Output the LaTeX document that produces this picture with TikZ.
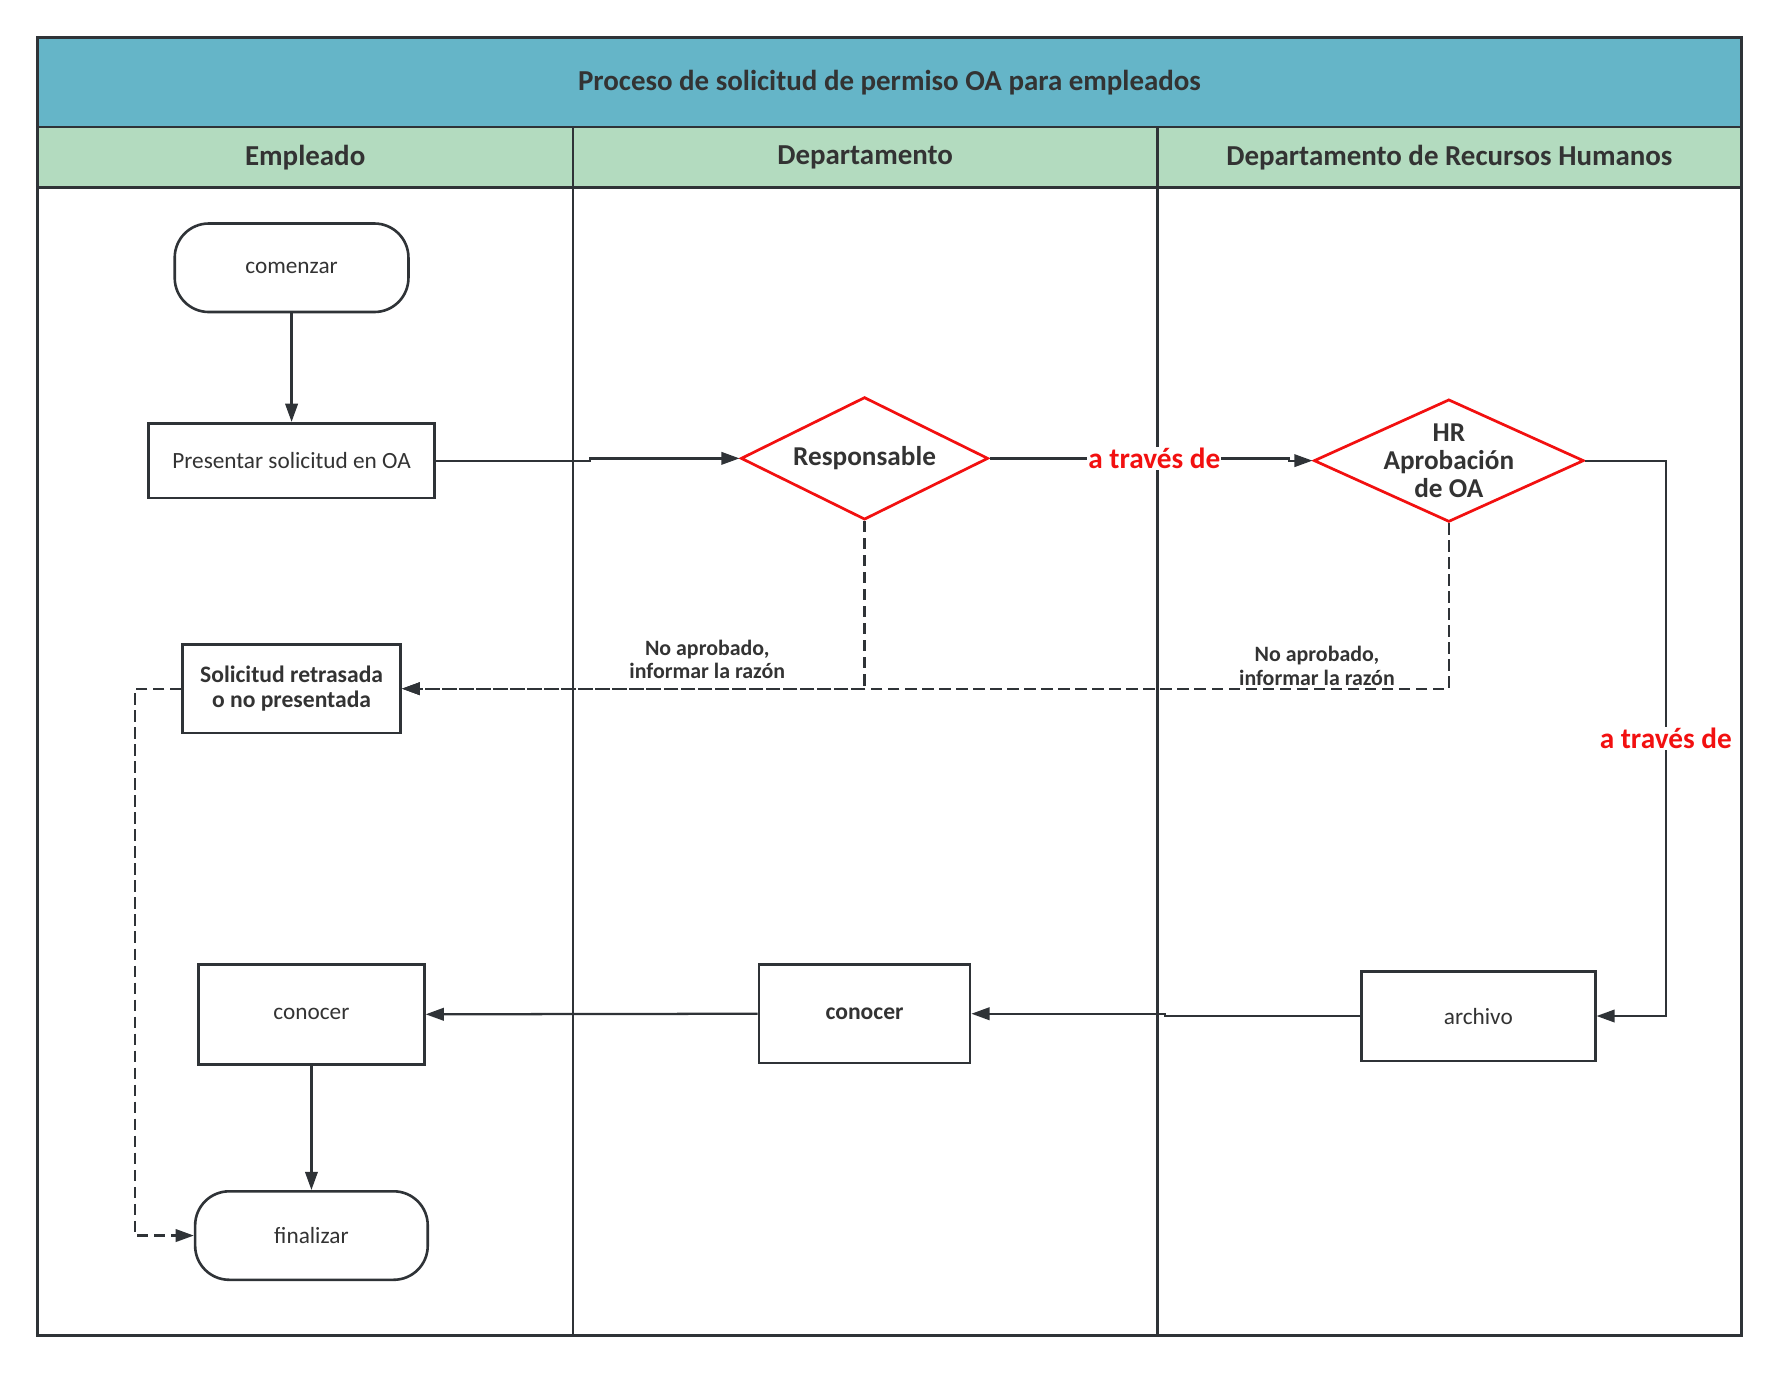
\documentclass[tikz,border=0pt]{standalone}
\usepackage{fontspec}
\setmainfont{Carlito}
\usetikzlibrary{arrows.meta,positioning,shapes.geometric}
\definecolor{OAInk}{HTML}{2F3337}
\definecolor{OAText}{HTML}{333333}
\definecolor{OATeal}{HTML}{65B5C8}
\definecolor{OAGreen}{HTML}{B3DBBF}
\definecolor{OARed}{HTML}{F21010}
\tikzset{
  oa/frame/.style={draw=OAInk, line width=2.5pt},
  oa/title/.style={
    oa/frame, fill=OATeal, text=OAText, inner sep=0pt,
    font=\fontsize{25.5}{30}\selectfont\bfseries
  },
  oa/head/.style={
    oa/frame, fill=OAGreen, text=OAText, inner sep=0pt, minimum height=53pt,
    font=\fontsize{25.5}{30}\selectfont\bfseries
  },
  oa/task/.style={
    draw=OAInk, line width=2.3pt, fill=white, text=OAText,
    inner sep=0pt, align=center, font=\fontsize{20.5}{24}\selectfont
  },
  oa/boldtask/.style={oa/task, font=\fontsize{20.8}{22}\selectfont\bfseries},
  oa/start/.style={oa/task, rounded corners=30pt},
  oa/decision/.style={
    diamond, aspect=2, draw=OARed, line width=2.4pt, fill=white, text=OAText,
    inner sep=0pt, align=center, font=\fontsize{24}{25}\selectfont\bfseries
  },
  oa/dtext/.style={text=OAText, align=center, font=\fontsize{24}{25}\selectfont\bfseries},
  oa/arrow/.style={
    -{Triangle[length=16pt,width=11pt]}, line width=2pt, draw=OAInk
  },
  oa/reject/.style={oa/arrow, dash pattern=on 10pt off 5pt},
  oa/via/.style={fill=white, text=OARed, inner sep=1pt, font=\fontsize{25.8}{30}\selectfont\bfseries},
  oa/note/.style={text=OAText, align=center, inner sep=1pt, font=\fontsize{19.3}{20.5}\selectfont\bfseries}
}
\begin{document}
\begin{tikzpicture}[x=1pt, y=-1pt]
  \useasboundingbox (0,0) rectangle (1568,1212);
  % pool and lanes
  \node[oa/title, minimum width=1502pt, minimum height=79pt] (title) at (784,72.5)
    {Proceso de solicitud de permiso OA para empleados};
  \node[oa/head, minimum width=472pt] (hemp) at (269,138.5) {Empleado};
  \node[oa/head, minimum width=515pt] (hdep) at (762.5,138.5) {Departamento};
  \node[oa/head, minimum width=515pt] (hrrh) at (1277.5,138.5) {Departamento de Recursos Humanos};
  \draw[oa/frame] (33,165) rectangle (1535,1177);
  \draw[oa/frame] (505,165) -- (505,1177);
  \draw[oa/frame] (1020,165) -- (1020,1177);
  % steps
  \node[oa/start, minimum width=206pt, minimum height=78pt] (start) at (257,236) {comenzar};
  \node[oa/task, minimum width=252pt, minimum height=66pt] (submit) at (257,406) {Presentar solicitud en OA};
  \node[oa/decision, minimum width=218pt, minimum height=108pt] (boss) at (762,404) {Responsable};
  \node[oa/decision, minimum width=238pt, minimum height=108pt,
    label={[oa/dtext]center:HR\\Aprobación\\de OA}] (hrok) at (1277,406) {};
  \node[oa/boldtask, minimum width=192pt, minimum height=78pt] (late) at (257,607)
    {Solicitud retrasada\\o no presentada};
  \node[oa/task, minimum width=199pt, minimum height=88pt] (know) at (274.5,894) {conocer};
  \node[oa/start, minimum width=205pt, minimum height=78pt] (finish) at (274.5,1089) {finalizar};
  \node[oa/boldtask, minimum width=186pt, minimum height=87pt] (deptknow) at (762,893.5) {conocer};
  \node[oa/task, minimum width=206pt, minimum height=79pt] (file) at (1303,895.5) {archivo};
  % flow
  \draw[oa/arrow] (start.south) -- (submit.north);
  \draw[oa/arrow] (submit.east) -- ++(136,0) |- (boss.west);
  \draw[oa/arrow] (boss.east) -- node[oa/via, pos=0.55] {a través de} ++(264,0) |- (hrok.west);
  \draw[oa/arrow] (hrok.east) -- ++(71,0) |- node[oa/via, pos=0.25] {a través de} (file.east);
  \draw[oa/arrow] (file.west) -- ++(-172,0) |- (deptknow.east);
  \draw[oa/arrow] (deptknow.west) -- (know.east);
  \draw[oa/arrow] (know.south) -- (finish.north);
  % rejections
  \draw[oa/reject] (boss.south) |- node[oa/note, above=7pt, pos=0.67] {No aprobado,\\informar la razón} (late.east);
  \draw[oa/reject] (hrok.south) |- node[oa/note, above=1pt, pos=0.563] {No aprobado,\\informar la razón} (late.east);
  \draw[oa/reject] (late.west) -- ++(-41,0) |- (finish.west);
\end{tikzpicture}
\end{document}
